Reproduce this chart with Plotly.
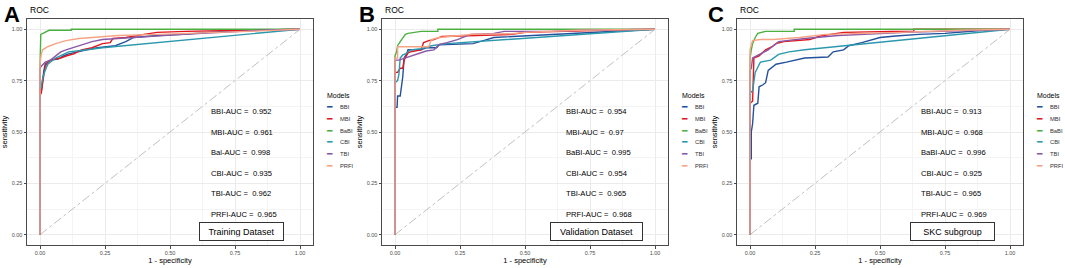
import plotly.graph_objects as go

# ---------------- data ----------------
models = ["BBI", "MBI", "BaBI", "CBI", "TBI", "PRFI"]
colors = ["#23519b", "#e0171f", "#4cb041", "#2b98ae", "#8b58a8", "#f7a386"]

# Panel A: Training Dataset
A_BBI_fpr = [0, 0, 0.005, 0.01, 0.015, 0.02, 0.03, 0.04, 0.07, 0.09, 0.11, 0.14, 0.18, 0.22, 0.26, 0.29, 0.31, 0.33, 0.36, 0.45, 0.55, 0.65, 0.8, 1]
A_BBI_tpr = [0, 0.68, 0.70, 0.76, 0.80, 0.83, 0.84, 0.85, 0.855, 0.87, 0.88, 0.89, 0.90, 0.91, 0.915, 0.92, 0.93, 0.94, 0.96, 0.97, 0.975, 0.985, 0.995, 1]
A_MBI_fpr = [0, 0, 0.005, 0.01, 0.015, 0.02, 0.03, 0.04, 0.06, 0.08, 0.1, 0.13, 0.16, 0.2, 0.24, 0.27, 0.28, 0.33, 0.4, 0.45, 0.56, 0.75, 1]
A_MBI_tpr = [0, 0.68, 0.69, 0.75, 0.78, 0.82, 0.84, 0.85, 0.855, 0.86, 0.87, 0.88, 0.90, 0.91, 0.93, 0.935, 0.955, 0.96, 0.975, 0.985, 0.99, 0.995, 1]
A_BaBI_fpr = [0, 0, 0.003, 0.01, 0.02, 0.035, 0.12, 0.12, 1]
A_BaBI_tpr = [0, 0.82, 0.975, 0.98, 0.985, 0.995, 0.995, 1, 1]
A_CBI_fpr = [0, 0, 0.005, 0.01, 0.02, 0.03, 0.06, 0.11, 0.18, 0.24, 1]
A_CBI_tpr = [0, 0.70, 0.72, 0.76, 0.80, 0.83, 0.86, 0.89, 0.90, 0.91, 1]
A_TBI_fpr = [0, 0, 0.005, 0.02, 0.04, 0.06, 0.08, 0.1, 0.15, 0.2, 0.24, 0.3, 0.4, 0.55, 0.7, 0.85, 1]
A_TBI_tpr = [0, 0.81, 0.82, 0.84, 0.85, 0.87, 0.89, 0.90, 0.92, 0.94, 0.95, 0.955, 0.965, 0.975, 0.985, 0.995, 1]
A_PRFI_fpr = [0, 0, 0.005, 0.01, 0.03, 0.06, 0.1, 0.15, 0.2, 0.3, 0.45, 0.6, 0.8, 1]
A_PRFI_tpr = [0, 0.83, 0.88, 0.90, 0.915, 0.93, 0.945, 0.955, 0.96, 0.97, 0.975, 0.98, 0.99, 1]

# Panel B: Validation Dataset
B_BBI_fpr = [0, 0, 0.008, 0.01, 0.02, 0.025, 0.03, 0.035, 0.045, 0.05, 0.1, 0.12, 0.16, 0.17, 0.3, 0.34, 0.38, 1]
B_BBI_tpr = [0, 0.62, 0.62, 0.675, 0.675, 0.72, 0.77, 0.86, 0.88, 0.90, 0.90, 0.91, 0.91, 0.925, 0.93, 0.945, 0.96, 1]
B_MBI_fpr = [0, 0, 0.01, 0.02, 0.03, 0.035, 0.05, 0.06, 0.1, 0.11, 0.13, 0.15, 0.18, 0.3, 0.45, 0.5, 0.62, 0.8, 1]
B_MBI_tpr = [0, 0.79, 0.79, 0.81, 0.81, 0.85, 0.885, 0.89, 0.90, 0.935, 0.945, 0.95, 0.965, 0.97, 0.975, 0.985, 0.99, 0.995, 1]
B_BaBI_fpr = [0, 0, 0.006, 0.01, 0.02, 0.03, 0.04, 0.05, 0.1, 0.165, 0.165, 1]
B_BaBI_tpr = [0, 0.87, 0.89, 0.92, 0.94, 0.96, 0.975, 0.98, 0.99, 0.99, 1, 1]
B_CBI_fpr = [0, 0, 0.01, 0.015, 0.02, 0.03, 0.04, 0.06, 0.1, 0.14, 0.2, 1]
B_CBI_tpr = [0, 0.74, 0.75, 0.78, 0.86, 0.875, 0.88, 0.90, 0.905, 0.92, 0.93, 1]
B_TBI_fpr = [0, 0, 0.015, 0.04, 0.06, 0.1, 0.12, 0.15, 0.17, 0.2, 0.24, 0.29, 0.38, 0.42, 0.6, 0.72, 1]
B_TBI_tpr = [0, 0.85, 0.85, 0.86, 0.87, 0.885, 0.894, 0.90, 0.926, 0.935, 0.95, 0.975, 0.98, 0.99, 0.99, 0.995, 1]
B_PRFI_fpr = [0, 0, 0.01, 0.01, 0.13, 0.14, 0.17, 0.3, 0.45, 0.5, 0.7, 1]
B_PRFI_tpr = [0, 0.86, 0.86, 0.915, 0.915, 0.95, 0.96, 0.976, 0.978, 0.985, 0.995, 1]

# Panel C: SKC subgroup
C_BBI_fpr = [0, 0, 0.005, 0.005, 0.01, 0.015, 0.03, 0.035, 0.05, 0.06, 0.07, 0.09, 0.1, 0.14, 0.17, 0.21, 0.3, 0.32, 0.36, 0.38, 0.43, 0.47, 0.5, 0.56, 0.65, 0.75, 0.9, 1]
C_BBI_tpr = [0, 0.37, 0.37, 0.50, 0.54, 0.63, 0.64, 0.72, 0.73, 0.74, 0.80, 0.82, 0.83, 0.84, 0.85, 0.86, 0.865, 0.89, 0.90, 0.92, 0.935, 0.95, 0.96, 0.967, 0.975, 0.98, 0.995, 1]
C_MBI_fpr = [0, 0, 0.01, 0.012, 0.015, 0.035, 0.05, 0.06, 0.085, 0.1, 0.13, 0.23, 0.27, 0.36, 0.55, 0.63, 0.63, 1]
C_MBI_tpr = [0, 0.64, 0.65, 0.75, 0.86, 0.87, 0.89, 0.90, 0.915, 0.93, 0.94, 0.95, 0.967, 0.985, 0.99, 0.99, 1, 1]
C_BaBI_fpr = [0, 0, 0.005, 0.01, 0.02, 0.03, 0.06, 0.17, 0.17, 1]
C_BaBI_tpr = [0, 0.86, 0.90, 0.93, 0.96, 0.98, 0.99, 0.99, 1, 1]
C_CBI_fpr = [0, 0, 0.01, 0.015, 0.02, 0.03, 0.04, 0.06, 0.08, 0.11, 0.15, 0.21, 1]
C_CBI_tpr = [0, 0.69, 0.70, 0.74, 0.79, 0.815, 0.84, 0.845, 0.85, 0.878, 0.89, 0.90, 1]
C_TBI_fpr = [0, 0, 0.005, 0.01, 0.04, 0.07, 0.09, 0.11, 0.21, 0.34, 0.6, 0.88, 1]
C_TBI_tpr = [0, 0.80, 0.81, 0.86, 0.88, 0.90, 0.92, 0.94, 0.955, 0.97, 0.985, 0.997, 1]
C_PRFI_fpr = [0, 0, 0.005, 0.01, 0.04, 0.09, 0.19, 0.29, 0.58, 0.8, 1]
C_PRFI_tpr = [0, 0.90, 0.925, 0.945, 0.95, 0.95, 0.96, 0.975, 0.985, 0.995, 1]

diag = [0, 1]

A_auc_labels = ["BBI-AUC =  0.952", "MBI-AUC =  0.961", "Bal-AUC =  0.998",
                "CBI-AUC =  0.935", "TBI-AUC =  0.962", "PRFI-AUC =  0.965"]
B_auc_labels = ["BBI-AUC =  0.954", "MBI-AUC =  0.97", "BaBI-AUC =  0.995",
                "CBI-AUC =  0.954", "TBI-AUC =  0.965", "PRFI-AUC =  0.968"]
C_auc_labels = ["BBI-AUC =  0.913", "MBI-AUC =  0.968", "BaBI-AUC =  0.996",
                "CBI-AUC =  0.925", "TBI-AUC =  0.965", "PRFI-AUC =  0.969"]
auc_y = [0.60, 0.50, 0.40, 0.30, 0.20, 0.10]
dataset_labels = ["Training Dataset", "Validation Dataset", "SKC subgroup"]
panel_letters = ["A", "B", "C"]
tick_vals = [0, 0.25, 0.5, 0.75, 1.0]
tick_text = ["0.00", "0.25", "0.50", "0.75", "1.00"]

panels = [
    dict(curves=[(A_BBI_fpr, A_BBI_tpr), (A_MBI_fpr, A_MBI_tpr), (A_BaBI_fpr, A_BaBI_tpr),
                 (A_CBI_fpr, A_CBI_tpr), (A_TBI_fpr, A_TBI_tpr), (A_PRFI_fpr, A_PRFI_tpr)],
         auc=A_auc_labels),
    dict(curves=[(B_BBI_fpr, B_BBI_tpr), (B_MBI_fpr, B_MBI_tpr), (B_BaBI_fpr, B_BaBI_tpr),
                 (B_CBI_fpr, B_CBI_tpr), (B_TBI_fpr, B_TBI_tpr), (B_PRFI_fpr, B_PRFI_tpr)],
         auc=B_auc_labels),
    dict(curves=[(C_BBI_fpr, C_BBI_tpr), (C_MBI_fpr, C_MBI_tpr), (C_BaBI_fpr, C_BaBI_tpr),
                 (C_CBI_fpr, C_CBI_tpr), (C_TBI_fpr, C_TBI_tpr), (C_PRFI_fpr, C_PRFI_tpr)],
         auc=C_auc_labels),
]

# ---------------- layout geometry (pixels) ----------------
W, H = 1065, 268
FONT = "Arial, 'Liberation Sans', sans-serif"
plot_left = [27, 382, 737]
plot_w = 286
plot_top, plot_bottom = 19, 245
box_x = [0.775, 0.775, 0.779]
box_w = [76, 84, 76]
letter_x = [2, 357, 706]
legend_x = [325, 680, 1035]
legend_y0 = 107
legend_dy = 11.8

fig = go.Figure()
annotations = []

def px(x):
    return x / W

def py(y):
    return 1 - y / H

for i, p in enumerate(panels):
    sfx = "" if i == 0 else str(i + 1)
    xa, ya = "x" + sfx, "y" + sfx
    fig.add_trace(go.Scatter(x=diag, y=diag, mode="lines", xaxis=xa, yaxis=ya,
                             line=dict(color="#b0b0b0", width=0.8, dash="dashdot"),
                             showlegend=False, hoverinfo="skip"))
    for (fx, ty), name, col in zip(p["curves"], models, colors):
        fig.add_trace(go.Scatter(x=fx, y=ty, mode="lines", name=name, xaxis=xa, yaxis=ya,
                                 line=dict(color=col, width=1.4), showlegend=False))
    axis_common = dict(range=[-0.05, 1.05], tickvals=tick_vals, ticktext=tick_text,
                       showgrid=True, gridcolor="#ebebeb", gridwidth=0.8,
                       minor=dict(dtick=0.125, tick0=0.125, showgrid=True, gridcolor="#f4f4f4", gridwidth=0.5),
                       zeroline=False, showline=True, mirror=True, linecolor="#4a4a4a", linewidth=1,
                       ticks="outside", ticklen=2.5, tickcolor="#4a4a4a", tickwidth=0.8,
                       tickfont=dict(size=5.5, color="#4d4d4d", family=FONT))
    d0 = px(plot_left[i])
    d1 = px(plot_left[i] + plot_w)
    fig.layout["xaxis" + sfx] = go.layout.XAxis(
        domain=[d0, d1], anchor=ya,
        title=dict(text="1 - specificity", font=dict(size=7.5, color="black", family=FONT), standoff=2),
        **axis_common)
    fig.layout["yaxis" + sfx] = go.layout.YAxis(
        domain=[py(plot_bottom), py(plot_top)], anchor=xa,
        title=dict(text="sensitivity", font=dict(size=7.5, color="black", family=FONT), standoff=3),
        **axis_common)
    for lab, yy in zip(p["auc"], auc_y):
        annotations.append(dict(x=0.65, y=yy, xref=xa, yref=ya, text=lab, showarrow=False,
                                xanchor="left", yanchor="middle",
                                font=dict(size=7.6, color="black", family=FONT)))
    annotations.append(dict(x=box_x[i], y=0.015, xref=xa, yref=ya, text=dataset_labels[i],
                            showarrow=False, xanchor="center", yanchor="middle",
                            width=box_w[i], height=10, borderpad=3.5,
                            bordercolor="#333333", borderwidth=1, bgcolor="white",
                            font=dict(size=9, color="black", family=FONT)))
    annotations.append(dict(x=px(letter_x[i]), y=1, xref="paper", yref="paper",
                            text="<b>" + panel_letters[i] + "</b>", showarrow=False,
                            xanchor="left", yanchor="top",
                            font=dict(size=22, color="black", family=FONT)))
    annotations.append(dict(x=px(plot_left[i] + 1), y=py(10), xref="paper", yref="paper",
                            text="ROC", showarrow=False, xanchor="left", yanchor="middle",
                            font=dict(size=8.5, color="black", family=FONT)))
    lx = legend_x[i]
    annotations.append(dict(x=px(lx), y=py(95), xref="paper", yref="paper", text="Models",
                            showarrow=False, xanchor="left", yanchor="middle",
                            font=dict(size=7, color="black", family=FONT)))
    for k, (name, col) in enumerate(zip(models, colors)):
        yk = legend_y0 + k * legend_dy
        annotations.append(dict(x=px(lx + 4), y=py(yk), xref="paper", yref="paper", text="━",
                                showarrow=False, xanchor="center", yanchor="middle",
                                font=dict(size=9, color=col, family="DejaVu Sans")))
        annotations.append(dict(x=px(lx + 13), y=py(yk), xref="paper", yref="paper", text=name,
                                showarrow=False, xanchor="left", yanchor="middle",
                                font=dict(size=5.8, color="#333333", family=FONT)))

fig.update_layout(width=W, height=H, autosize=False,
                  margin=dict(l=0, r=0, t=0, b=0),
                  paper_bgcolor="white", plot_bgcolor="white",
                  font=dict(family=FONT),
                  annotations=annotations, showlegend=False)

fig.write_html("out.html", config={"displayModeBar": False},
               post_script="document.body.style.margin='0px';document.body.style.overflow='hidden';")
